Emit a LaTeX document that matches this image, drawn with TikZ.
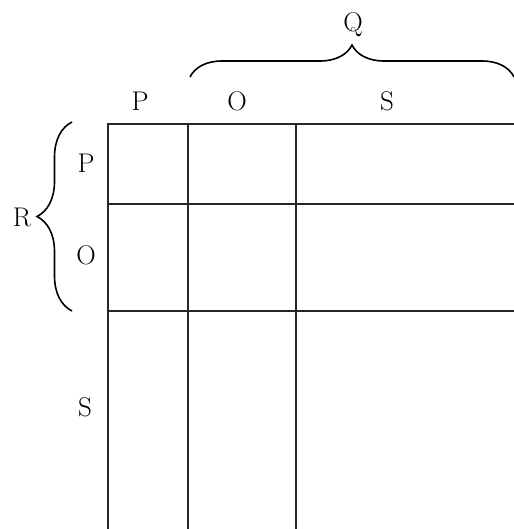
\documentclass[tikz,border=0pt]{standalone}
\usetikzlibrary{decorations.pathreplacing}
\begin{document}
\begin{tikzpicture}[x=1pt,y=-1pt,
  lbl/.style={inner sep=0pt,font=\fontsize{27}{32}\selectfont},
  gridline/.style={line width=2.6pt,draw=black!85},
  bracestyle/.style={line width=1.6pt,decorate,decoration={brace,amplitude=#1}}]
\useasboundingbox (0,0) rectangle (513,529);
% grid
\coordinate (tl) at (108,124);
\coordinate (tr) at (520,124);
\coordinate (bl) at (108,535);
\draw[gridline] (bl) -- (tl) -- (tr);
\coordinate (h1a) at (108,204); \coordinate (h1b) at (520,204);
\coordinate (h2a) at (108,311); \coordinate (h2b) at (520,311);
\coordinate (v1a) at (188,124); \coordinate (v1b) at (188,535);
\coordinate (v2a) at (296,124); \coordinate (v2b) at (296,535);
\draw[gridline] (h1a) -- (h1b);
\draw[gridline] (h2a) -- (h2b);
\draw[gridline] (v1a) -- (v1b);
\draw[gridline] (v2a) -- (v2b);
% column labels
\node[lbl] (cP) at (140,101) {P};
\node[lbl] (cO) at (237,101) {O};
\node[lbl] (cS) at (387,101) {S};
% row labels
\node[lbl] (rP) at (86,163) {P};
\node[lbl] (rO) at (86,255) {O};
\node[lbl] (rS) at (85,407) {S};
% braces
\coordinate (lb1) at (72,311);
\coordinate (lb2) at (72,122);
\draw[bracestyle=35pt] (lb1) -- (lb2);
\node[lbl] (R) at (22,217) {R};
\coordinate (tb1) at (190,77);
\coordinate (tb2) at (514,77);
\draw[bracestyle=32pt] (tb1) -- (tb2);
\node[lbl] (Q) at (353,25) {Q};
\end{tikzpicture}
\end{document}
